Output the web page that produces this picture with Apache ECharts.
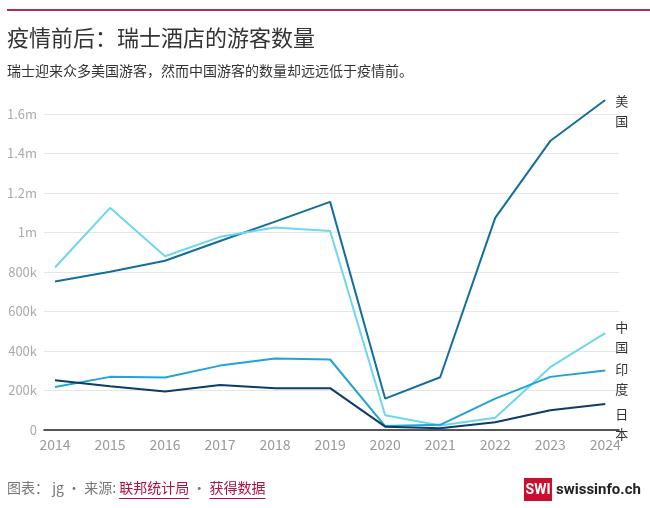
<!DOCTYPE html>
<html>
<head>
<meta charset="utf-8">
<script src="https://cdn.jsdelivr.net/npm/echarts@6/dist/echarts.min.js"></script>
<style>
  html, body { margin: 0; padding: 0; background: #fff; }
  #main { width: 650px; height: 508px; }
</style>
</head>
<body>
<div id="main"></div>
<script>
// 年份
var years = [2014, 2015, 2016, 2017, 2018, 2019, 2020, 2021, 2022, 2023, 2024];
// 各国游客（人次）
var usa   = [752000, 801000, 857000, 957000, 1055000, 1155000, 159000, 267000, 1074000, 1463000, 1671000];
var china = [823000, 1125000, 880000, 978000, 1025000, 1008000, 75000, 23000, 62000, 318000, 491000];
var india = [218000, 269000, 266000, 326000, 362000, 357000, 20000, 26000, 159000, 269000, 301000];
var japan = [252000, 222000, 195000, 228000, 212000, 212000, 17000, 9000, 39000, 100000, 132000];

var FONT = '"Noto Sans CJK SC", "Noto Sans", sans-serif';

function pairs(vals) {
    return years.map(function (y, i) { return [y, vals[i]]; });
}

function fmtY(v) {
    if (v === 0) return '0';
    if (v >= 1000000) return (v / 1000000) + 'm';
    return (v / 1000) + 'k';
}

function makeSeries(name, vals, color, offY) {
    return {
        name: name,
        type: 'line',
        data: pairs(vals),
        symbol: 'none',
        clip: false,
        lineStyle: { color: color, width: 2 },
        itemStyle: { color: color },
        z: 3,
        endLabel: {
            show: true,
            formatter: name.split('').join('\n'),
            color: '#333',
            fontSize: 13,
            lineHeight: 20,
            fontFamily: FONT,
            distance: 10,
            offset: [0, offY]
        }
    };
}

// 页脚下划线位置：用 canvas 量文字宽度
var ctx = document.createElement('canvas').getContext('2d');
ctx.font = '14px ' + FONT;
var footA = '图表： jg • 来源: ';
var footB = '联邦统计局';
var footC = ' • ';
var footD = '获得数据';
var x0 = 7;
var x1 = x0 + ctx.measureText(footA).width;
var w1 = ctx.measureText(footB).width;
var x2 = x1 + w1 + ctx.measureText(footC).width;
var w2 = ctx.measureText(footD).width;

var myChart = echarts.init(document.getElementById('main'));

myChart.setOption({
    animation: false,
    grid: { left: 44, right: 31, top: 114, bottom: 78 },
    xAxis: {
        type: 'value',
        min: 2013.8,
        max: 2024.25,
        axisLine: { show: true, onZero: true, lineStyle: { color: '#222', width: 1.5 } },
        axisTick: { show: false },
        splitLine: { show: false },
        axisLabel: {
            customValues: years,
            color: '#999',
            fontSize: 14,
            fontFamily: FONT,
            margin: 8,
            formatter: function (v) { return String(v); }
        }
    },
    yAxis: {
        type: 'value',
        min: 0,
        max: 1600000,
        interval: 200000,
        axisLine: { show: false },
        axisTick: { show: false },
        splitLine: { lineStyle: { color: '#e6e6e6', width: 1 } },
        axisLabel: {
            color: '#aaa',
            fontSize: 13,
            fontFamily: FONT,
            margin: 7,
            formatter: fmtY
        }
    },
    series: [
        makeSeries('美国', usa, '#136e9e', 11),
        makeSeries('中国', china, '#6fd6f0', 4),
        makeSeries('印度', india, '#21a3d6', 9),
        makeSeries('日本', japan, '#0c3d68', 20)
    ],
    graphic: [
        { type: 'rect', shape: { x: 7, y: 9, width: 643, height: 2 }, style: { fill: '#b5285a' } },
        { type: 'text', left: 7, top: 27, style: { text: '疫情前后：瑞士酒店的游客数量', fontSize: 22, fontFamily: FONT, fill: '#333' } },
        { type: 'text', left: 7, top: 64, style: { text: '瑞士迎来众多美国游客，然而中国游客的数量却远远低于疫情前。', fontSize: 14, fontFamily: FONT, fill: '#333' } },
        { type: 'text', x: x0, y: 481, style: {
            text: '{g|' + footA + '}{l|' + footB + '}{g|' + footC + '}{l|' + footD + '}',
            fontFamily: FONT,
            rich: {
                g: { fontSize: 14, fill: '#777', fontFamily: FONT },
                l: { fontSize: 14, fill: '#b0123f', fontFamily: FONT }
            }
        } },
        { type: 'rect', shape: { x: x1, y: 498, width: w1, height: 1 }, style: { fill: '#b0123f' } },
        { type: 'rect', shape: { x: x2, y: 498, width: w2, height: 1 }, style: { fill: '#b0123f' } },
        { type: 'rect', shape: { x: 524, y: 478, width: 28, height: 23 }, style: { fill: '#c8102e' } },
        { type: 'text', x: 538, y: 490, style: { text: 'SWI', fontSize: 14, fontWeight: 'bold', fontFamily: 'Roboto, sans-serif', fill: '#fff', align: 'center', verticalAlign: 'middle' } },
        { type: 'text', x: 556, y: 490, style: { text: 'swissinfo.ch', fontSize: 15, fontWeight: 'bold', fontFamily: 'Roboto, sans-serif', fill: '#222', verticalAlign: 'middle' } }
    ]
});
</script>
</body>
</html>
